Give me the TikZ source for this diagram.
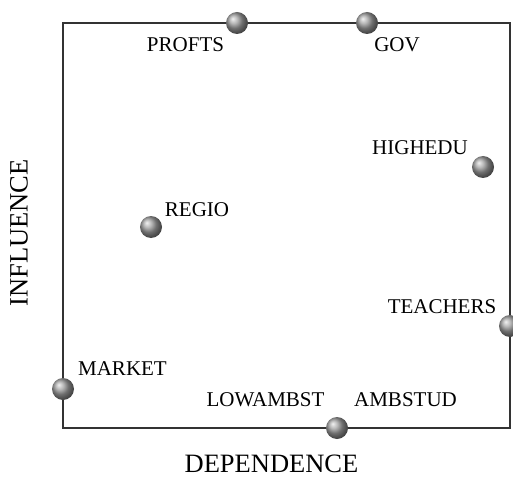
\documentclass[tikz,border=0pt]{standalone}
\usepackage{fontspec}
\setmainfont{Liberation Serif}
\usetikzlibrary{positioning}

\begin{document}
\begin{tikzpicture}[
			x = 1pt, y = -1pt,
			actor/.style = {circle, shading = ball, ball color = gray!75, minimum size = 22pt, inner sep = 0pt},
			tag/.style = {anchor = base, inner sep = 0pt, font = \fontsize{21}{25}\selectfont},
			axis/.style = {inner sep = 0pt, font = \fontsize{26.5}{30}\selectfont}
		]
		\useasboundingbox (0,0) rectangle (513,478);
		% frame
		\draw[line width = 2pt, black!80] (63,23) rectangle (510,428);
		% axes
		\node[axis, anchor = base] (dep) at (271.5,472) {DEPENDENCE};
		\node[axis, rotate = 90] (infl) at (19,233) {INFLUENCE};
		% stakeholders
		\node[actor] (profts) at (237,23) {};
		\node[actor] (gov) at (367,23) {};
		\node[actor] (highedu) at (483,167) {};
		\node[actor] (regio) at (151,227) {};
		\node[actor] (teachers) at (510,326) {};
		\node[actor] (market) at (63,389) {};
		\node[actor] (stud) at (337,428) {};
		% labels
		\node[tag] (proftslab) at (185.5,52) {PROFTS};
		\node[tag] (govlab) at (397,52) {GOV};
		\node[tag] (highedulab) at (420,155) {HIGHEDU};
		\node[tag] (regiolab) at (197,216) {REGIO};
		\node[tag] (teacherslab) at (442,313) {TEACHERS};
		\node[tag] (marketlab) at (122.5,375) {MARKET};
		\node[tag] (lowlab) at (265.5,406) {LOWAMBST};
		\node[tag] (amblab) at (405.5,406) {AMBSTUD};
	\end{tikzpicture}
\end{document}
